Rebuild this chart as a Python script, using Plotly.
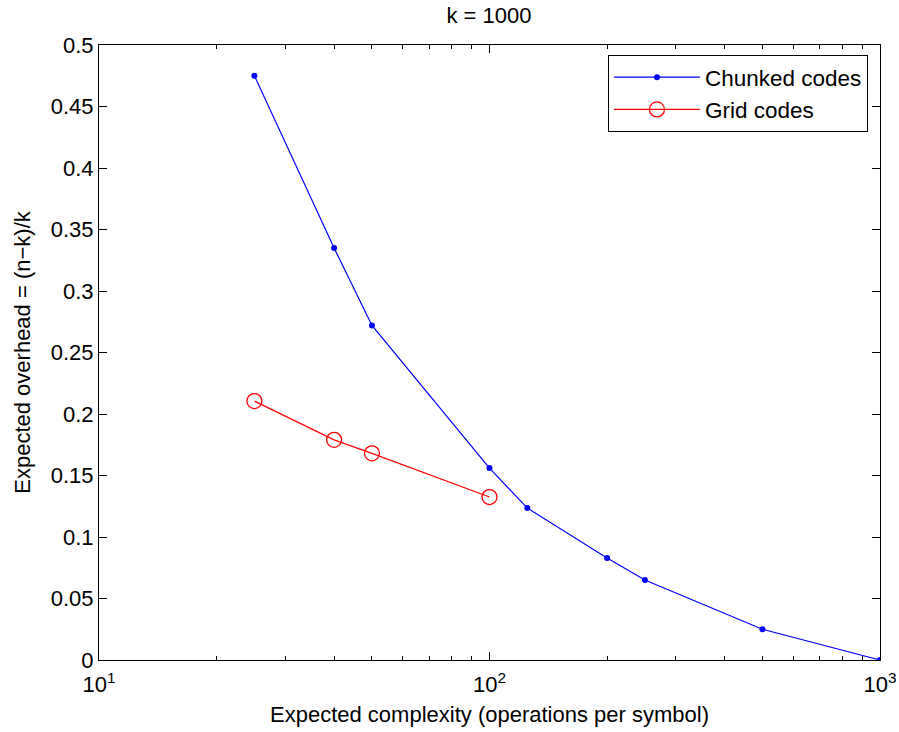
import plotly.graph_objects as go

chunked_x = [25, 40, 50, 100, 125, 200, 250, 500, 1000]
chunked_y = [0.475, 0.335, 0.272, 0.156, 0.1235, 0.083, 0.065, 0.025, 0.0]
grid_x = [25, 40, 50, 100]
grid_y = [0.2105, 0.179, 0.168, 0.1325]

x_ticks = [10, 100, 1000]
x_ticktext = ["10<sup>1</sup>", "10<sup>2</sup>", "10<sup>3</sup>"]
y_ticks = [0, 0.05, 0.1, 0.15, 0.2, 0.25, 0.3, 0.35, 0.4, 0.45, 0.5]
y_ticktext = ["0", "0.05", "0.1", "0.15", "0.2", "0.25", "0.3", "0.35", "0.4", "0.45", "0.5"]
minor_x = [20, 30, 40, 50, 60, 70, 80, 90, 200, 300, 400, 500, 600, 700, 800, 900]

font = "Liberation Sans, Arial, Helvetica, sans-serif"

fig = go.Figure()
fig.add_trace(go.Scatter(
    x=chunked_x, y=chunked_y, mode="lines+markers", name="Chunked codes",
    line=dict(color="#0000ff", width=1.2),
    marker=dict(color="#0000ff", size=6, symbol="circle"),
))
fig.add_trace(go.Scatter(
    x=grid_x, y=grid_y, mode="lines+markers", name="Grid codes",
    line=dict(color="#ff0000", width=1.2),
    marker=dict(color="#ff0000", size=15, symbol="circle-open",
                line=dict(color="#ff0000", width=1.3)),
))

fig.update_layout(
    width=899, height=732,
    margin=dict(l=99, r=19, t=45, b=72),
    paper_bgcolor="white", plot_bgcolor="white",
    font=dict(family=font, size=22, color="black"),
    title=dict(text="k = 1000", x=(489 - 99) / 781, xref="paper", xanchor="center",
               y=1 - 15 / 732, yanchor="middle", font=dict(size=22)),
    showlegend=True,
    legend=dict(x=0.9846, y=0.9837, xanchor="right", yanchor="top",
                bordercolor="black", borderwidth=1, bgcolor="white",
                font=dict(size=22.5), tracegroupgap=0, itemwidth=86),
)
fig.update_xaxes(
    type="log", range=[1, 3], automargin=False,
    tickmode="array", tickvals=x_ticks, ticktext=x_ticktext,
    ticks="inside", ticklen=8, tickcolor="black", tickwidth=1,
    minor=dict(tickvals=minor_x, ticks="inside", ticklen=4, tickcolor="black", tickwidth=1),
    showline=True, linecolor="black", linewidth=1, mirror="ticks",
    showgrid=False, zeroline=False, ticklabelstandoff=5,
    title=dict(text="Expected complexity (operations per symbol)", standoff=10, font=dict(size=22)),
    tickfont=dict(size=22),
)
fig.update_yaxes(
    range=[0, 0.5], automargin=False,
    tickmode="array", tickvals=y_ticks, ticktext=y_ticktext,
    ticks="inside", ticklen=8, tickcolor="black", tickwidth=1,
    showline=True, linecolor="black", linewidth=1, mirror="ticks",
    showgrid=False, zeroline=False,
    title=dict(text="Expected overhead = (n\u2212k)/k", standoff=14, font=dict(size=22)),
    tickfont=dict(size=22),
)

fig.write_html("out.html", config={"displayModeBar": False},
               post_script="document.body.style.margin='0px';")
